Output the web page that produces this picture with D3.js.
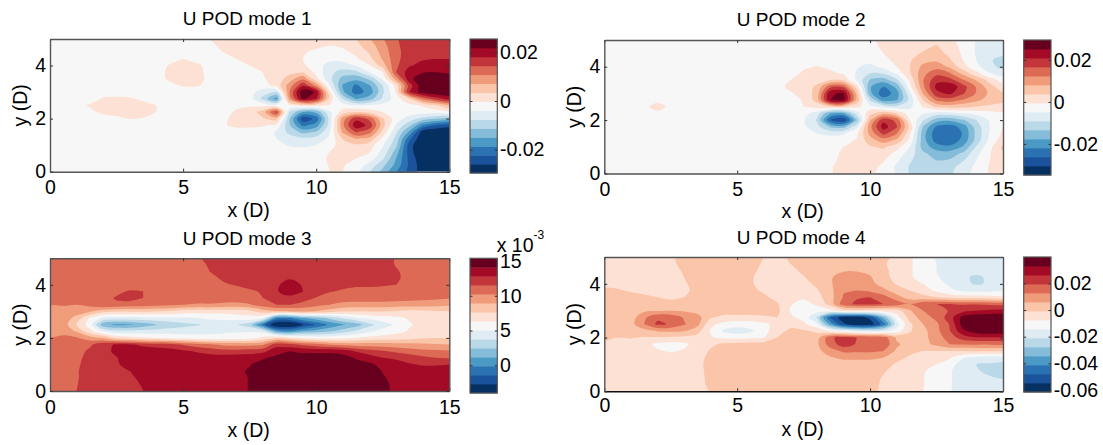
<!DOCTYPE html>
<html><head><meta charset="utf-8">
<script src="https://cdn.jsdelivr.net/npm/d3@7/dist/d3.min.js"></script>
<style>
html,body{margin:0;padding:0;background:#fff}
svg{display:block}
text{font-family:"Liberation Sans",Arial,sans-serif;fill:#000}
</style></head><body>
<svg id="c" width="1103" height="445"></svg>
<script>
// Field samples: rows run y = 5 ... 0 (step .25), columns x = 0 ... 15 (step .5).
const xStep = 0.5, yStep = 0.25;
const mode1Cells = [
[0,0,0,0,0,0,0,0,0,0, 0,0,.5,.8,.9,.9,.9,.9,.9,.9, .9,.8,1,1.5,2.4,3.4,4.4,5,5.2,5.3,5.3],
[0,0,0,0,0,0,0,0,0,0, 0,0,.3,.7,.8,.8,.8,.8,.8,.8, .7,.5,.7,1.2,2,3.1,4.3,5,5.2,5.3,5.3],
[0,0,0,0,0,0,0,0,0,0, 0,0,.1,.5,.7,.8,.8,.8,.8,.6, .3,0,.2,.8,1.6,2.9,4.2,5,5.3,5.4,5.4],
[0,0,0,0,0,0,0,0,0,.1, .5,.2,0,.2,.5,.7,.8,.8,.8,.5, 0,-.3,-.2,.3,1.2,2.6,4.2,5.1,5.4,5.5,5.5],
[0,0,0,0,0,0,0,0,0,.6, .9,.7,.2,.2,.3,.5,.6,.7,.9,.7, -.1,-.8,-.9,-.4,.4,2,4.3,5.4,5.8,5.8,5.7],
[0,0,0,0,0,0,0,0,0,.8, .9,.8,.2,.1,.2,.3,.5,.8,1.2,1.5, .2,-1.2,-1.9,-1.8,-.5,.5,4.5,6,6.4,6.5,6.3],
[0,0,0,0,0,0,0,0,0,.7, .9,.8,.3,.1,.1,.2,.4,.9,2,3.3, .8,-1.2,-2.9,-3.2,-2.3,-.3,3,6.2,7.2,7.4,7.4],
[0,0,0,0,0,0,0,0,0,.2, .6,.6,.2,0,.1,.1,.1,.8,3,5.3, 3.2,-.4,-3.6,-4.7,-3.6,-1.5,.9,5,7.2,7.6,7.6],
[0,0,0,0,0,0,0,0,0,0, 0,0,0,0,0,-.1,-1,-1.5,3.5,7.3, 6.3,.8,-3.3,-5,-4.1,-1.7,.6,5.5,7,7.4,7.4],
[0,0,0,0,.6,.7,.6,.3,0,0, 0,0,0,0,0,0,-1.8,-3.9,3,6.7, 5.6,1.2,-1.6,-3.6,-3,-1.3,0,1.5,3.8,5,5.9],
[0,0,.2,.6,.8,.9,.9,.8,.5,.1, 0,0,0,0,.2,.4,.2,-.2,.5,1, .9,.5,0,-.5,-.4,-.2,0,.2,.6,1.4,2.5],
[0,0,0,.3,.7,.85,.85,.8,.5,.1, 0,0,0,0,.7,.9,2,4.9,-1.6,-3.5, -3.2,-.7,.9,1.5,1.1,.5,.2,0,0,0,.3],
[0,0,0,0,.1,.3,.55,.45,.1,0, 0,0,0,.3,.8,.9,1.4,2,-2.4,-6.2, -5.2,-1.1,3,5.2,4.2,1.6,0,-.9,-1.8,-2.4,-2.9],
[0,0,0,0,0,0,0,0,0,0, 0,0,0,.4,.7,.7,.6,.3,-2.4,-4.8, -4,-1.1,3.3,6.2,5.2,1.9,-.6,-2.2,-4.5,-5.5,-6],
[0,0,0,0,0,0,0,0,0,0, 0,0,0,0,.1,.1,.1,-.6,-1.8,-2.8, -2.4,-.6,2.7,4.6,3.9,1.2,-1.3,-3.7,-7,-7.5,-7.7],
[0,0,0,0,0,0,0,0,0,0, 0,0,0,0,0,0,0,-.5,-1,-1.3, -1.1,-.3,1.6,2.6,2.2,.3,-1.8,-5.2,-7.4,-7.6,-7.7],
[0,0,0,0,0,0,0,0,0,0, 0,0,0,0,0,0,0,-.2,-.6,-.7, -.5,.1,1,1.3,1,-.4,-2.2,-6,-7.7,-7.8,-7.8],
[0,0,0,0,0,0,0,0,0,0, 0,0,0,0,0,0,0,0,-.1,-.1, .1,.5,.9,.9,.6,-.8,-2.9,-6,-7.7,-7.8,-7.8],
[0,0,0,0,0,0,0,0,0,0, 0,0,0,0,0,0,0,0,0,0, .2,.6,.8,.5,0,-1.3,-3.5,-5.8,-7.3,-7.8,-7.8],
[0,0,0,0,0,0,0,0,0,0, 0,0,0,0,0,0,0,0,0,0, .1,.55,.6,.1,-.8,-2.2,-3.8,-5.7,-7.1,-7.8,-7.8],
[0,0,0,0,0,0,0,0,0,0, 0,0,0,0,0,0,0,0,0,0, .1,.5,.5,-.2,-1.4,-2.8,-4.4,-5.8,-7,-7.8,-7.8]
];
const mode2Cells = [
[0,0,0,0,0,0,0,0,0,0, 0,0,0,0,0,0,0,0,0,0, .3,.8,.9,1,1.1,1.2,.7,.2,-.6,-.9,-1],
[0,0,0,0,0,0,0,0,0,0, 0,0,0,0,0,0,0,0,0,0, .1,.7,.9,1.1,1.3,1.6,1,.2,-.6,-1,-1.1],
[0,0,0,0,0,0,0,0,0,0, 0,0,0,0,0,0,0,0,0,0, 0,.5,.8,1.2,1.6,1.8,1.3,.3,-.6,-1.2,-1.3],
[0,0,0,0,0,0,0,0,0,0, 0,0,0,0,0,0,0,0,0,0, -.1,.3,.7,1.4,2.1,2.3,1.6,.5,-.5,-1.4,-1.8],
[0,0,0,0,0,0,0,0,0,0, 0,0,0,0,0,.3,.55,.3,.1,-.4, -.8,-.2,.5,1.5,2.8,3.1,2.3,.9,-.2,-1.2,-1.8],
[0,0,0,0,0,0,0,0,0,0, 0,0,0,0,.1,.7,.9,.7,.4,-.6, -1.5,-1.4,-.3,1.4,3.2,4.2,3.6,2.2,.8,-.4,-1],
[0,0,0,0,0,0,0,0,0,0, 0,0,0,.1,.5,.9,1.1,1.5,1.3,-.7, -2.6,-3,-1.7,.7,3.5,5.2,4.9,3.6,2.4,1.1,0],
[0,0,0,0,0,0,0,0,0,0, 0,0,0,.2,.7,.9,1.7,4.2,4.2,1, -3.4,-4.5,-3.2,.2,3.3,5.8,6.3,4.9,3.4,1.9,.9],
[0,0,0,0,0,0,0,0,0,0, 0,0,0,.1,.4,.8,1.9,6.4,6.6,2.2, -3.2,-5.2,-4,-.7,2.6,5.2,5.7,4.6,3.4,2.3,1.6],
[0,0,0,0,.3,0,0,0,0,0, 0,0,0,0,.1,.6,1.9,6.5,6.9,2.2, -1.6,-4,-3.6,-1.2,1.6,3.7,4,3.4,2.7,2.1,1.7],
[0,0,0,.3,.8,.3,0,0,0,0, 0,0,0,0,0,.5,.9,1.4,1.5,.7, -.1,-.8,-1.2,-.7,.6,1.7,2,1.8,1.5,1.3,1.2],
[0,0,0,0,.3,0,0,0,0,0, 0,0,0,0,0,-.1,-1,-3.5,-3.7,-1, 1.2,2.2,1.5,-.1,-.5,-1,-.9,-.5,-.2,.1,.3],
[0,0,0,0,0,0,0,0,0,0, 0,0,0,0,0,-.4,-1.6,-5.5,-6.5,-2.6, 2.4,5.2,4.2,.4,-1.4,-3,-3.3,-2.6,-1.5,-.4,.2],
[0,0,0,0,0,0,0,0,0,0, 0,0,0,0,0,-.3,-1.2,-2.6,-2.9,-.8, 3.2,6,4.6,1.2,-2.6,-4.7,-5,-4.1,-2,-.5,.5],
[0,0,0,0,0,0,0,0,0,0, 0,0,0,0,0,0,-.5,-.7,-.6,.3, 2.8,4.8,3.6,.6,-3.1,-5.2,-5.4,-4.4,-2.2,-.4,.7],
[0,0,0,0,0,0,0,0,0,0, 0,0,0,0,0,0,0,-.1,.1,.6, 2.1,3,2.3,.2,-3.1,-5,-5.2,-4.2,-2.1,-.2,1],
[0,0,0,0,0,0,0,0,0,0, 0,0,0,0,0,0,0,0,.5,.9, 1.4,1.7,.9,-.5,-3,-4,-4.3,-3.4,-1.4,.2,1.7],
[0,0,0,0,0,0,0,0,0,0, 0,0,0,0,0,0,0,.1,.7,1, 1.2,1,.2,-1,-2.3,-3,-3,-2.3,-.8,.4,1.4],
[0,0,0,0,0,0,0,0,0,0, 0,0,0,0,0,0,0,.2,.8,.9, 1,.6,-.3,-1.4,-2,-2.5,-2.4,-1.6,-.5,.5,1],
[0,0,0,0,0,0,0,0,0,0, 0,0,0,0,0,0,0,.4,.9,.9, .8,.3,-.7,-1.6,-1.9,-2,-1.9,-1,-.3,.6,.9],
[0,0,0,0,0,0,0,0,0,0, 0,0,0,0,0,0,0,.4,.9,.9, .7,.2,-.6,-1.6,-1.8,-1.9,-1.7,-.8,-.2,.6,.9]
];
const mode3Cells = [
[4,4,4,4,4,4,4,4,4,4, 4,4.3,4.8,5,5,5,5,5,5,5, 5,5,5,5,5,5,4.4,4.1,4,4,4],
[4,4,4,4,4,4,4,4,4,4, 4,4.2,4.6,5,5,5,5,5,5,5, 5,5,5,5,5,4.9,4.45,4.1,4,4,4],
[4,4,4,4,4,4,4,4,4,4, 4,4.1,4.5,4.8,5,5,5,5,5,5, 5,5,5,5,5,5,4.6,4.2,4,4,4],
[4,4,4,4,4,4,4,4,4,4, 4,4,4.3,4.6,4.9,5,5,5.1,5.4,5.1, 5,5,5,5,5,4.9,4.65,4.2,4,4,4],
[4,4,4,4,4,4,4,4,4,4, 4,4,4.2,4.4,4.55,4.8,4.9,5.3,6,5.4, 5,4.9,4.7,4.6,4.6,4.55,4.5,4.2,4,4,4],
[4,4,4,4,4,4.3,4.6,4.5,4.1,4, 4,4,4,4,4.2,4.35,4.6,5.4,6,5.5, 4.9,4.55,4.4,4.3,4.3,4.3,4.3,4.1,4,4,4],
[4,4,4,4,4.2,4.6,4.8,4.5,4.1,4, 4,4,4,4,4.05,4.2,4.5,5,5.2,4.9, 4.45,4.1,4,4,4,4,3.95,3.85,3.8,3.7,3.6],
[3.5,3.6,3.5,3.8,4.5,4.3,4.1,4,3.9,3.7, 3.5,3.4,3.4,3.3,3.2,3.4,4,4.5,4.5,4.2, 3.8,3.5,3.2,3.1,3.1,3.1,3,3,2.9,2.8,2.7],
[3,3,3,2.6,1.8,1.6,1.6,1.6,1.5,1.4, 1,.9,.9,.9,1,1.2,2,2.4,2.5,2.7, 2.4,2,1.6,1.5,1.5,1.5,1.4,1.2,1.3,1.4,1.5],
[3,3,2.2,.4,-.7,-.9,-.9,-.8,-.8,-.7, -.6,-.5,-.3,-.2,-.1,.1,-.4,-4.5,-4.6,-3.5, -3,-2.2,-1.3,-.6,-.2,.1,.3,.6,.9,1,1],
[3,3,1.5,0,-3.2,-3.7,-3.6,-3.1,-2.5,-2.1, -1.8,-1.6,-1.3,-1.1,-1.4,-2,-5,-7.7,-7.7,-6.5, -5.4,-4.3,-3.6,-3,-1.8,-1,-.3,.4,.8,1,1],
[3.1,3.2,2.4,.8,-.6,-1.2,-1.2,-1.1,-1.1,-1, -1,-.9,-.8,-.7,-.6,-.6,-.8,-3.6,-4.2,-3.4, -3,-2.6,-2,-1.3,-.7,-.1,.2,.6,.9,1,1],
[3.5,3.7,3.6,3,2.5,1.3,1,.7,.5,.3, .1,0,-.1,-.1,0,.1,.8,1.5,1,.4, .2,.2,.3,.5,.8,.9,1,1.2,1.4,1.5,1.5],
[4,4,4,4.3,5.2,5.6,5.6,5.3,5.1,4.9, 4.4,4,3.7,3.3,3.2,3.2,3.4,5,4.8,4.3, 3.9,3.4,3.2,3,3,3,2.9,2.8,2.7,2.6,2.5],
[4,4,4.1,4.7,5.2,5.7,5.9,6,6,5.9, 5.7,5.4,5.1,4.9,4.9,5,5.2,6.2,6.5,6.3, 6.3,6.3,6.1,5.4,4.9,4.6,4.3,4,3.8,3.7,3.6],
[4,4,4.2,4.9,5.2,5.45,6,6.1,6.1,6.1, 6.1,6,6,6,6.1,6.2,6.4,6.7,7,7, 7,7,6.9,6.4,6,5.5,5.3,5.1,4.7,4.5,4.4],
[4,4,4.3,5,5.2,5.4,5.8,6.1,6.2,6.2, 6.2,6.2,6.2,6.2,6.3,6.45,6.8,7,7,7, 7,7,7,6.9,6.7,6.2,6,5.6,5.4,5.4,5.5],
[4,4,4.4,5,5.2,5.2,5.5,6,6.2,6.2, 6.2,6.2,6.2,6.2,6.3,6.6,7,7,7,7, 7,7,7,7,7,6.45,6.1,6,6,6,6],
[4,4,4.4,5,5.1,5.1,5.3,5.8,6.1,6.1, 6.1,6.1,6.1,6.1,6.2,6.55,7.1,7.1,7.1,7.1, 7.1,7.1,7.1,7.1,7.1,6.6,6.2,6,6,6,6],
[4,4,4.45,5,5,5,5.2,5.6,6,6, 6,6,6,6.1,6.2,6.55,7.1,7.1,7.1,7.1, 7.1,7.1,7.1,7.1,7.1,6.7,6.3,6,6,6,6],
[4,4,4.5,5,5,5,5.2,5.5,6,6, 6,6,6,6.1,6.2,6.55,7.1,7.1,7.1,7.1, 7.1,7.1,7.1,7.1,7.1,6.7,6.3,6,6,6,6]
];
const mode4Cells = [
[1,1,1,1,1,1.4,1.7,2,2,2, 2,1.9,1.5,1.3,1.6,2,2,2,2,2, 2,1.7,1.3,.6,.1,-.6,-.9,-1,-1.1,-1.1,-1.1],
[1,1,1,1,1,1.35,1.7,2,2,2, 2,1.8,1.4,1.2,1.5,1.9,2,2,2,2, 2,1.6,1.2,.6,.1,-.5,-.9,-1,-1.1,-1.1,-1.1],
[1,1,1,1,1,1.2,1.6,1.9,2,2, 2,1.7,1.3,1.1,1.25,1.7,2,2.2,2.4,2.4, 2.2,1.7,1.2,.6,.1,-.5,-.9,-1.2,-1.3,-1.3,-1.2],
[1,1,1,1,1,1.1,1.5,1.8,2,2, 2,1.6,1.2,1.05,1.15,1.45,1.9,2.4,2.9,3, 2.6,1.8,1.2,.6,.2,-.4,-.9,-1.4,-1.6,-1.4,-1.2],
[1.3,1.25,1.15,1.1,1.1,1.2,1.4,1.8,2,2, 2,1.6,1.2,1,1,1.2,1.7,2.4,3,3.1, 2.8,2.1,1.4,.8,.5,-.1,-.7,-1.3,-1.6,-1.4,-1.2],
[1.7,1.6,1.4,1.3,1.2,1.25,1.35,1.7,1.9,1.9, 1.9,1.75,1.35,1,.9,1,1.4,2.2,3.4,3.5, 3.3,2.8,2,1.5,1,.3,-.3,-.7,-.8,-.8,-.6],
[2.2,2.1,1.8,1.65,1.5,1.45,1.5,1.7,2,2, 2,2,1.7,1.2,.8,.7,1.1,2.1,3.6,4.4, 4.5,3.9,2.9,2,1.8,1.5,1.2,1,1,.9,.7],
[2,2,2,1.75,1.6,1.6,1.6,2,2,2, 2,2,2,1.6,.6,.1,.7,1.9,4.1,4.7, 4.8,4.5,4.2,3.5,4.3,4.5,4.5,4.4,4.4,4.3,4.2],
[2,2,2,2.3,2.4,2.5,2.4,2.1,2,2, 2,2,2,1.8,.4,-.1,-.1,.1,1,1.1, 1,.9,1,2.4,3.5,4,4.6,5.2,5.5,5.7,5.8],
[2,2,2,3.3,4.3,4.2,3.4,2.9,1.6,1.2, 1.2,1.2,1.3,1.5,.7,.2,-1.6,-5.6,-7.1,-7.2, -6.2,-3.2,0,1.9,3,3.8,5,6.9,7.3,7.4,7.4],
[2,2,2.1,3.5,4.7,4.4,3.6,2.8,.7,.2, -.1,0,.3,.8,1.2,.7,-.3,-3.8,-6.3,-7.2, -7.1,-5,-.9,1.3,2.5,3.3,4.6,7,7.5,7.5,7.5],
[1.9,1.8,1.8,2.1,2.6,2.7,2.6,1.9,.4,-.7, -1,-.7,.1,1.1,1.7,1.6,1.3,.3,-.4,-.8, -1,-.8,-.1,1.4,2.2,3.2,4.5,6.3,7.1,7.3,7.3],
[1.6,1.5,1.55,1.45,1.4,1.35,1.2,1.1,.6,.3, .2,.3,.45,1.5,1.9,2,2,4.3,4.9,4.5, 4.4,4,2.3,1.9,2.2,3,4,5,5.4,5.4,5.4],
[1.4,1.3,1.2,.8,.3,.1,.3,.9,1.3,1.7, 1.8,1.9,2,2,2,2,2.3,4,5,4.4, 4.4,4.2,2.7,2,2.1,2.8,3.5,3.6,3.6,3.6,3.7],
[1,1,1,1,.6,.4,.6,1,1.6,2, 2,2,2,2,2,2,2.2,3,3.7,3.7, 3.7,3.5,2.3,1.8,1.5,1.5,1.5,1.5,1.6,1.6,1.5],
[1,1,1,1,1,1,1,1,1.9,2, 2,2,2,2,2,2,2,2.4,2.7,2.7, 2.7,2.5,1.9,1.3,.9,.7,.6,-.4,-.9,-1,-1],
[1,1,1,1,1,1,1,1.1,2,2, 2,2,2,2,2,2,2,2,2,2, 2,2.1,1.3,1,.7,.5,-.1,-1,-1.5,-1.6,-1.8],
[1,1,1,1,1,1,1,1,2,2, 2,2,2,2,2,2,2,2,2,2, 2,1.6,1.1,1,.6,0,-.4,-1,-1.4,-1.7,-2],
[1,1,1,1,1,1,1,1,1.9,2, 2,2,2,2,2,2,2,2,2,2, 2,1.4,1,.9,.55,-.1,-.4,-1,-1.2,-1.4,-1.6],
[1,1,1,1,1,1,1,1,1.8,2, 2,2,2,2,2,2,2,2,2,2, 1.9,1.3,1,.9,.55,-.1,-.4,-1,-1,-1,-1],
[1,1,1,1,1,1,1,1,1.6,2, 2,2,2,2,2,2,2,2,2,2, 1.8,1.3,1,.8,.5,-.1,-.45,-.9,-1,-1,-1]
];
const titles = ["U POD mode 1","U POD mode 2","U POD mode 3","U POD mode 4"];
const colorRanges = [[-0.0296,0.0255],[-0.0348,0.0295],[-4.0,15.4],[-0.0615,0.0398]];
const colorTicks = [[-0.02,0,0.02],[-0.02,0,0.02],[0,5,10,15],[-0.06,-0.04,-0.02,0,0.02]];
const xTicks = [0,5,10,15];
const yTicks = [0,2,4];
const bandColors = ["#053061","#1b529c","#2a72b2","#4b9ac6","#84bcd9","#b9d8e8","#dfecf3","#f7f7f7",
                    "#fde1d4","#fbc5a9","#f09c7b","#dc6a55","#c2353a","#a20a25","#67001f"];

const cells = [mode1Cells,mode2Cells,mode3Cells,mode4Cells];
const layout = [
 {l:50,r:449.3,t:39,b:171.7,cl:470,cr:497.3,ct:39,cb:173,ty:25,tick:194,lab:216.5,yl:27},
 {l:604.3,r:1003,t:40,b:173.5,cl:1023.7,cr:1051,ct:40,cb:175,ty:26,tick:195.5,lab:217.5,yl:581},
 {l:50,r:449.3,t:258.3,b:391,cl:470,cr:497.3,ct:258.3,cb:393,ty:244.7,tick:413.5,lab:437,yl:27},
 {l:604.3,r:1003,t:257,b:391.3,cl:1023.7,cr:1051,ct:257,cb:392,ty:243.7,tick:412.5,lab:436,yl:581}
];
const FONT = 19.5, TITLE_FONT = 19, frame = "#555";
const svg = d3.select("#c");
const smooth = d3.line().curve(d3.curveCatmullRomClosed.alpha(0.5));
const intFmt = d3.format("d");

cells.forEach((rows,i)=>{
  const L = layout[i], [lo,hi] = colorRanges[i], band = (hi-lo)/15, mid = (hi+lo)/2;
  const g = svg.append("g");
  const x = d3.scaleLinear().domain([0,15]).range([L.l,L.r]);
  const y = d3.scaleLinear().domain([0,5]).range([L.b,L.t]);
  const ny = rows.length, nx = rows[0].length;
  // pad by one cell, copying the edge, so that contour rings close outside the clipped plot
  const pad = [];
  for(let r=-1;r<=ny;r++){
    const row = rows[Math.max(0,Math.min(ny-1,r))];
    for(let c=-1;c<=nx;c++) pad.push(mid + band*row[Math.max(0,Math.min(nx-1,c))]);
  }
  const thresholds = d3.range(1,15).map(k=>lo+k*band);
  const contours = d3.contours().size([nx+2,ny+2]).thresholds(thresholds)(pad);
  const id = "clip"+i;
  g.append("clipPath").attr("id",id).append("rect")
    .attr("x",L.l).attr("y",L.t).attr("width",L.r-L.l).attr("height",L.b-L.t);
  const plot = g.append("g").attr("clip-path",`url(#${id})`);
  plot.append("rect").attr("x",L.l).attr("y",L.t).attr("width",L.r-L.l).attr("height",L.b-L.t).attr("fill",bandColors[0]);
  const toPx = p => [x((p[0]-1.5)*xStep), y(5-(p[1]-1.5)*yStep)];
  plot.selectAll("path").data(contours).join("path")
    .attr("fill",(d,k)=>bandColors[k+1])
    .attr("fill-rule","evenodd")
    .attr("d",d=>d.coordinates.map(poly=>poly.map(ring=>smooth(ring.slice(0,-1).map(toPx))).join("")).join(""));

  // main axes, ticks inward and mirrored, as in the reference
  const style = s=>{ s.select(".domain").attr("stroke",frame).attr("stroke-width",1.4);
    s.selectAll("line").attr("stroke","#333");
    s.selectAll("text").attr("font-size",FONT).attr("font-family",'"Liberation Sans",Arial,sans-serif').attr("fill","#000"); };
  g.append("g").attr("transform",`translate(0,${L.b})`)
    .call(d3.axisBottom(x).tickValues(xTicks).tickSizeInner(-3).tickSizeOuter(0).tickPadding(0).tickFormat(intFmt)).call(style)
    .call(s=>s.select(".domain").attr("stroke",i===3?"#111":frame))
    .selectAll("text").attr("dy",0).attr("y",L.tick-L.b);
  g.append("g").attr("transform",`translate(0,${L.t})`)
    .call(d3.axisTop(x).tickValues(xTicks).tickSizeInner(-3).tickSizeOuter(0).tickFormat("")).call(style);
  g.append("g").attr("transform",`translate(${L.l},0)`)
    .call(d3.axisLeft(y).tickValues(yTicks).tickSizeInner(-3).tickSizeOuter(0).tickPadding(4).tickFormat(intFmt)).call(style);
  g.append("g").attr("transform",`translate(${L.r},0)`)
    .call(d3.axisRight(y).tickValues(yTicks).tickSizeInner(-3).tickSizeOuter(0).tickFormat("")).call(style);

  g.append("text").attr("x",(L.l+L.r)/2-2.5).attr("y",L.ty).attr("text-anchor","middle").attr("font-size",TITLE_FONT).text(titles[i]);
  g.append("text").attr("x",(L.l+L.r)/2-1).attr("y",L.lab).attr("text-anchor","middle").attr("font-size",FONT).text("x (D)");
  g.append("text").attr("transform",`translate(${L.yl},${(L.t+L.b)/2}) rotate(-90)`).attr("text-anchor","middle").attr("font-size",FONT).text("y (D)");

  // colour bar
  const cy = d3.scaleLinear().domain([lo,hi]).range([L.cb,L.ct]);
  const cb = g.append("g");
  cb.selectAll("rect").data(bandColors).join("rect")
    .attr("x",L.cl).attr("width",L.cr-L.cl)
    .attr("y",(d,k)=>cy(lo+(k+1)*band)).attr("height",(d,k)=>cy(lo+k*band)-cy(lo+(k+1)*band)+0.4)
    .attr("fill",d=>d);
  cb.append("rect").attr("x",L.cl).attr("y",L.ct).attr("width",L.cr-L.cl).attr("height",L.cb-L.ct)
    .attr("fill","none").attr("stroke",frame).attr("stroke-width",1.2);
  const fmt = i===2 ? intFmt : (v=> v===0 ? "0" : String(v));
  g.append("g").attr("transform",`translate(${L.cr},0)`)
    .call(d3.axisRight(cy).tickValues(colorTicks[i]).tickSizeInner(-2.5).tickSizeOuter(0).tickPadding(2.7).tickFormat(fmt))
    .call(s=>{ s.select(".domain").remove(); s.selectAll("line").attr("stroke","#333");
      s.selectAll("text").attr("font-size",FONT).attr("font-family",'"Liberation Sans",Arial,sans-serif').attr("fill","#000"); });
  g.append("g").attr("transform",`translate(${L.cl},0)`)
    .call(d3.axisLeft(cy).tickValues(colorTicks[i]).tickSizeInner(-2.5).tickSizeOuter(0).tickFormat(""))
    .call(s=>{ s.select(".domain").remove(); s.selectAll("line").attr("stroke","#333"); });
  if(i===2){
    const t = g.append("text").attr("x",L.cr-0.6).attr("y",252).attr("font-size",FONT);
    t.append("tspan").text("x 10");
    t.append("tspan").attr("font-size",12).attr("dy",-13).text("-3");
  }
});
</script>
</body></html>
